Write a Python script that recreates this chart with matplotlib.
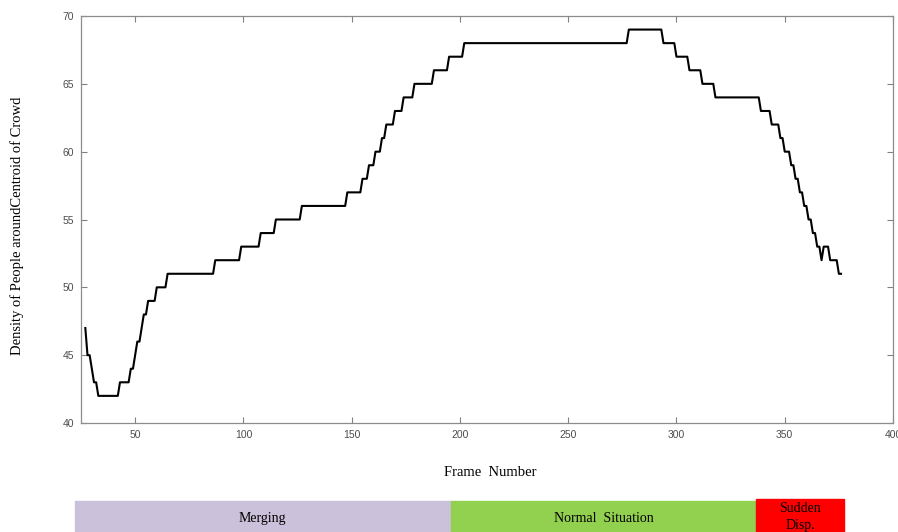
import numpy as np
import matplotlib.pyplot as plt

# density level and the frame where each level begins (one sample per frame)
level_start = [27, 28, 30, 31, 33, 43, 48, 50, 51, 53, 54, 56, 60, 65, 87, 99, 108, 115,
               127, 148, 155, 158, 161, 164, 166, 170, 174, 179, 188, 195, 202, 278, 294,
               300, 306, 312, 318, 339, 344, 348, 350, 353, 355, 357, 359, 361, 363, 365,
               367, 368, 371, 375]
level_value = [47, 45, 44, 43, 42, 43, 44, 45, 46, 47, 48, 49, 50, 51, 52, 53, 54, 55,
               56, 57, 58, 59, 60, 61, 62, 63, 64, 65, 66, 67, 68, 69, 68,
               67, 66, 65, 64, 63, 62, 61, 60, 59, 58, 57, 56, 55, 54, 53,
               52, 53, 52, 51]
last_frame = 376

# phases shown in the strip under the chart (frame boundaries)
phase_names = ['Merging', 'Normal  Situation', 'Sudden\nDisp.']
phase_edges = [22.2, 195.7, 336.9, 377.5]
phase_colors = ['#CCC1DA', '#92D050', '#FF0000']

frames = np.arange(level_start[0], last_frame + 1)
runs = np.diff(level_start + [last_frame + 1])
density = np.repeat(level_value, runs)

W, H = 898, 532
fig = plt.figure(figsize=(W / 100, H / 100), dpi=100)
ax = fig.add_axes([81 / W, 1 - 423 / H, (893 - 81) / W, (423 - 16) / H])

ax.plot(frames, density, color='black', lw=1.5)
ax.set_xlim(25, 400)
ax.set_ylim(40, 70)
ax.set_xticks(range(50, 401, 50))
ax.set_yticks(range(40, 71, 5))
ax.tick_params(direction='in', top=True, right=True, length=4, width=0.8,
               color='#808080', labelsize=7.5, labelcolor='#4d4d4d', pad=5)
for lab in ax.get_xticklabels() + ax.get_yticklabels():
    lab.set_family('Liberation Sans')
for s in ax.spines.values():
    s.set_color('#8c8c8c')
    s.set_linewidth(0.9)

serif = 'Liberation Serif'
fig.text(17 / W, 1 - 226 / H, 'Density of People aroundCentroid of Crowd', rotation=90,
         ha='center', va='center', fontsize=10.5, family=serif)
fig.text(490 / W, 1 - 472 / H, 'Frame  Number', ha='center', va='center',
         fontsize=10.5, family=serif)

# phase strip, same x scale as the chart
bx = fig.add_axes([81 / W, 0, (893 - 81) / W, 31 / H])
bx.set_xlim(25, 400)
bx.set_ylim(0, 1)
bx.axis('off')
for i, name in enumerate(phase_names):
    x0, x1 = phase_edges[i], phase_edges[i + 1]
    top = 1.07 if i == 2 else 1.0
    bx.add_patch(plt.Rectangle((x0, 0), x1 - x0, top, color=phase_colors[i], clip_on=False))
    if i == 2:
        bx.text((x0 + x1) / 2, 0.75, 'Sudden', ha='center', va='center', fontsize=10, family=serif)
        bx.text((x0 + x1) / 2, 0.2, 'Disp.', ha='center', va='center', fontsize=10, family=serif)
    else:
        bx.text((x0 + x1) / 2, 0.45, name, ha='center', va='center', fontsize=10, family=serif)

fig.savefig('out.png', dpi=100)
